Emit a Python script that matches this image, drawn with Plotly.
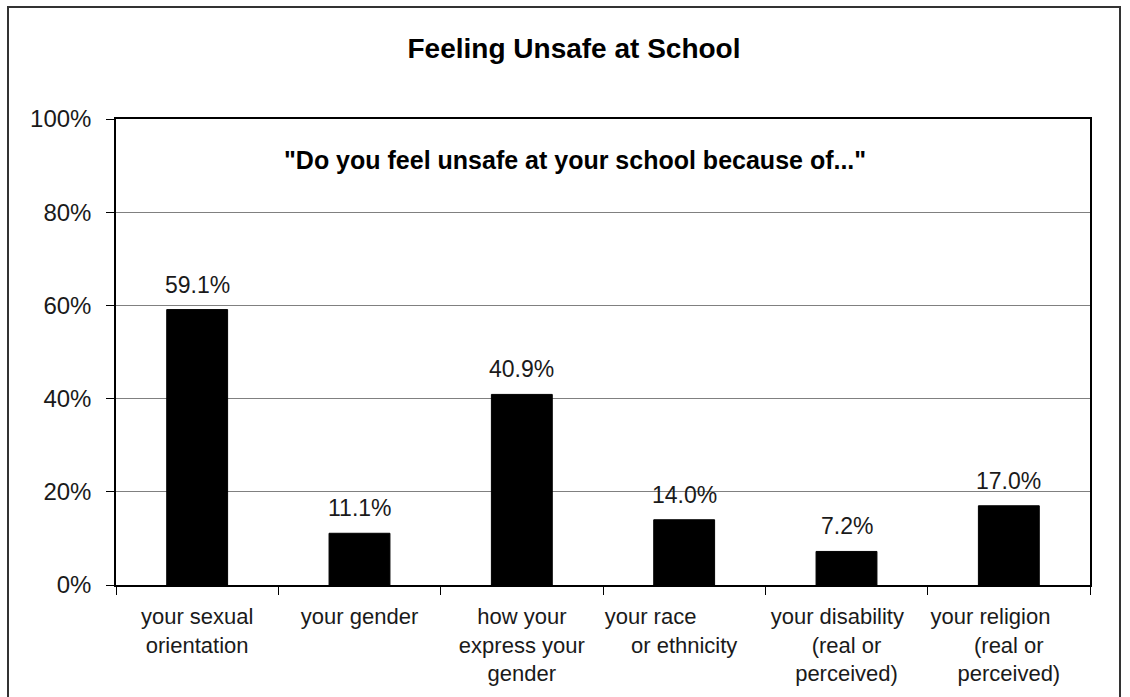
import plotly.graph_objects as go

# Survey responses
NB = "\u00a0"
categories = [
    "your sexual<br>orientation",
    "your gender",
    "how your<br>express your<br>gender",
    "your race" + NB * 11 + "<br>or ethnicity",
    "your disability" + NB * 3 + "<br>(real or<br>perceived)",
    "your religion" + NB * 6 + "<br>(real or<br>perceived)",
]
percent_unsafe = [59.1, 11.1, 40.9, 14.0, 7.2, 17.0]
y_ticks = [0, 20, 40, 60, 80, 100]

W, H = 1130, 697
ML, MR, MT, MB = 116, 40, 119, 112
PW = W - ML - MR
PH = H - MT - MB

font_family = "Liberation Sans, Arial, sans-serif"
text_color = "#1a1a1a"

fig = go.Figure(
    go.Bar(
        x=categories,
        y=percent_unsafe,
        marker=dict(color="black", line=dict(color="black", width=1)),
        hoverinfo="x+y",
    )
)

# Value labels above each bar
for cat, val in zip(categories, percent_unsafe):
    fig.add_annotation(
        x=cat,
        y=val,
        text=f"{val:.1f}%",
        xref="x",
        yref="y",
        yanchor="bottom",
        yshift=10,
        showarrow=False,
        font=dict(size=23, color=text_color, family=font_family),
    )

fig.update_layout(
    width=W,
    height=H,
    margin=dict(l=ML, r=MR, t=MT, b=MB, autoexpand=False),
    paper_bgcolor="white",
    plot_bgcolor="white",
    bargap=0.625,
    showlegend=False,
    font=dict(family=font_family, size=22, color=text_color),
    title=dict(
        text="<b>Feeling Unsafe at School</b>",
        x=574 / W,
        xanchor="center",
        y=1 - 48 / H,
        yanchor="middle",
        font=dict(size=28, color="black", family=font_family),
    ),
)

fig.update_xaxes(
    showline=True,
    linecolor="black",
    linewidth=1.5,
    mirror=True,
    ticks="outside",
    tickson="boundaries",
    ticklen=8,
    tickcolor="black",
    tickangle=0,
    ticklabelstandoff=11,
    automargin=False,
    tickfont=dict(size=22, color=text_color),
    showgrid=False,
)

fig.update_yaxes(
    range=[0, 100],
    tickvals=y_ticks,
    ticktext=[f"{t}%" for t in y_ticks],
    showline=True,
    linecolor="black",
    linewidth=1.5,
    mirror=True,
    ticks="outside",
    ticklen=8,
    tickcolor="black",
    ticklabelstandoff=10,
    automargin=False,
    tickfont=dict(size=24, color=text_color),
    showgrid=True,
    gridcolor="#808080",
    gridwidth=1,
    zeroline=False,
)

# Question text inside the plot area
fig.add_annotation(
    text='<b>"Do you feel unsafe at your school because of..."</b>',
    xref="paper",
    yref="paper",
    x=(575 - ML) / PW,
    y=(H - MB - 160) / PH,
    xanchor="center",
    yanchor="middle",
    showarrow=False,
    font=dict(size=25, color="black", family=font_family),
)

# Outer chart frame
fig.add_shape(
    type="rect",
    xref="paper",
    yref="paper",
    x0=(8 - ML) / PW,
    x1=(1120 - ML) / PW,
    y0=(H - MB - 720) / PH,
    y1=(H - MB - 7) / PH,
    line=dict(color="#333333", width=2),
    fillcolor="rgba(0,0,0,0)",
    layer="below",
)

fig.write_html("out.html")
